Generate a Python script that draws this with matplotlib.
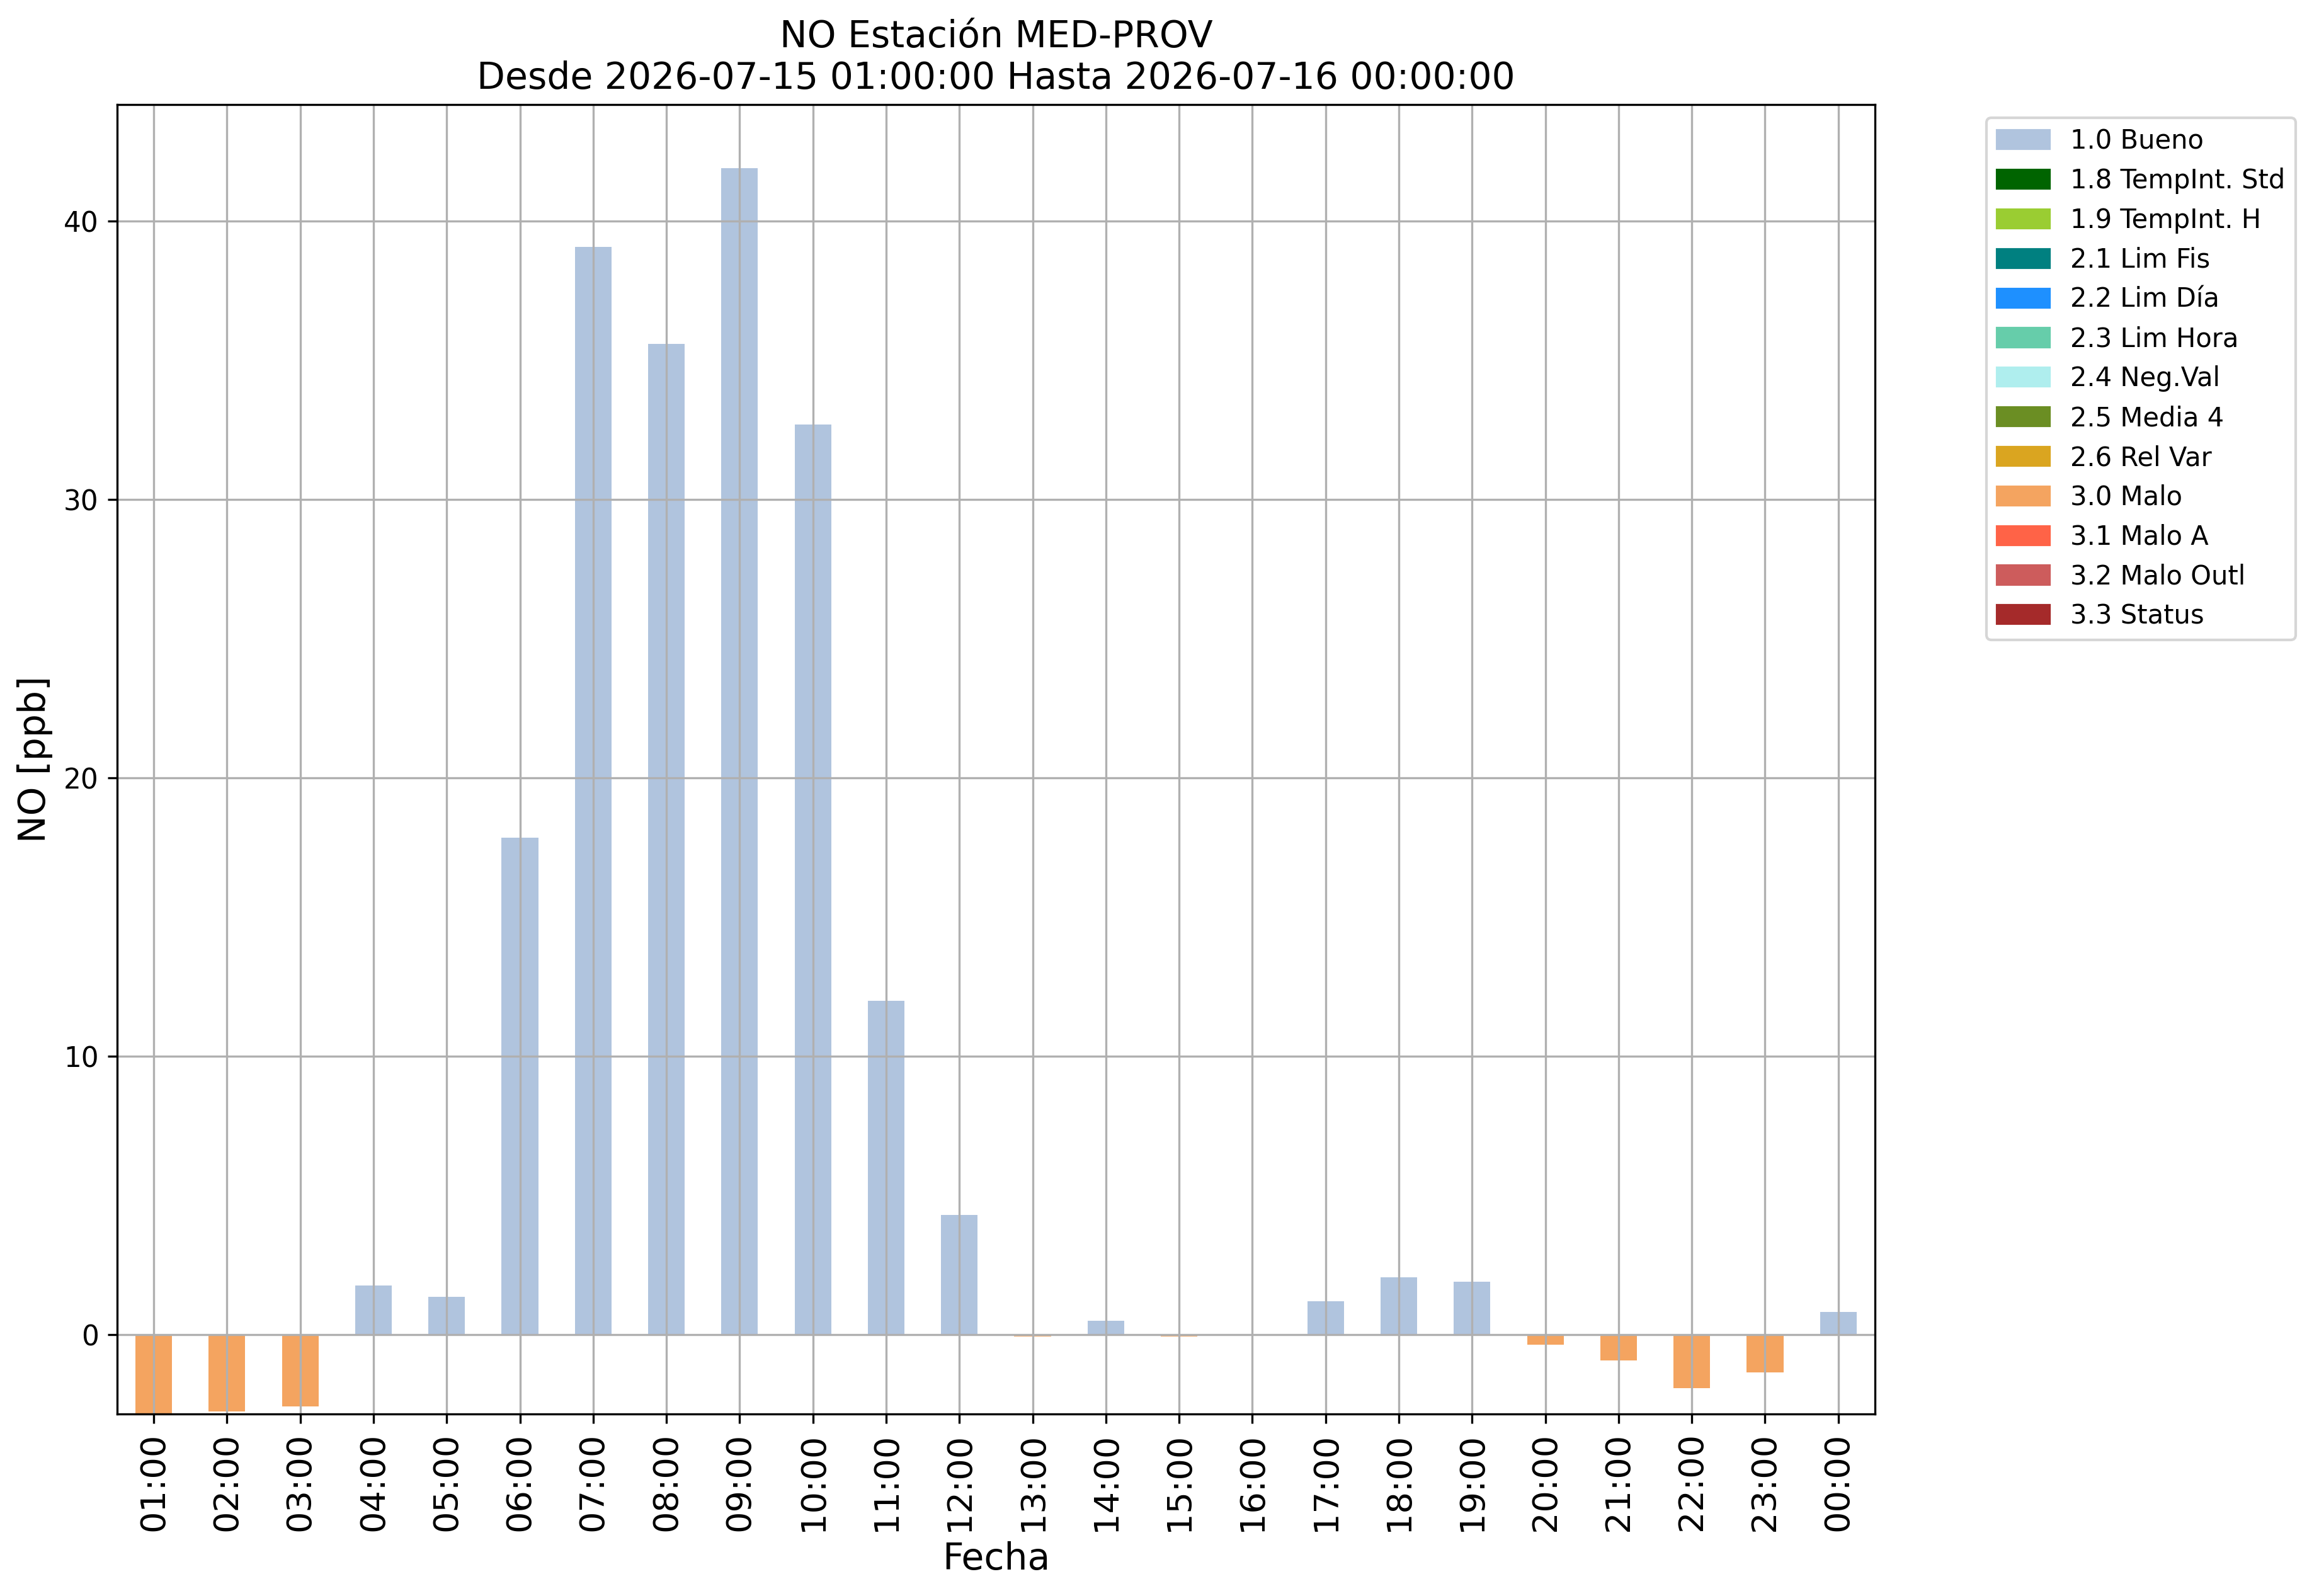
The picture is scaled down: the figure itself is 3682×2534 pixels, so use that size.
import matplotlib
matplotlib.use('Agg')
import matplotlib.pyplot as plt
from matplotlib.patches import Patch
import numpy as np

# horas (etiquetas del eje x)
horas = ['01:00', '02:00', '03:00', '04:00', '05:00', '06:00', '07:00', '08:00',
         '09:00', '10:00', '11:00', '12:00', '13:00', '14:00', '15:00', '16:00',
         '17:00', '18:00', '19:00', '20:00', '21:00', '22:00', '23:00', '00:00']
# valores NO [ppb]
valores = [-2.85, -2.76, -2.57, 1.76, 1.36, 17.85, 39.07, 35.6,
           41.9, 32.7, 12.0, 4.3, -0.06, 0.5, -0.06, 0.0,
           1.2, 2.06, 1.9, -0.36, -0.93, -1.92, -1.35, 0.81]
# flag de calidad de cada hora
flags = ['1.0'] * 24
for i in [0, 1, 2, 12, 14, 19, 20, 21, 22]:
    flags[i] = '3.0'

# etiquetas y colores de los flags
flag_codes = ['1.0', '1.8', '1.9', '2.1', '2.2', '2.3', '2.4', '2.5', '2.6',
              '3.0', '3.1', '3.2', '3.3']
flag_names = ['1.0 Bueno', '1.8 TempInt. Std', '1.9 TempInt. H', '2.1 Lim Fis',
              '2.2 Lim Día', '2.3 Lim Hora', '2.4 Neg.Val', '2.5 Media 4',
              '2.6 Rel Var', '3.0 Malo', '3.1 Malo A', '3.2 Malo Outl', '3.3 Status']
flag_colors = ['lightsteelblue', 'darkgreen', 'yellowgreen', 'teal', 'dodgerblue',
               'mediumaquamarine', 'paleturquoise', 'olivedrab', 'goldenrod',
               'sandybrown', 'tomato', 'indianred', 'brown']

fig = plt.figure(figsize=(3682 / 300, 2534 / 300), dpi=300)
ax = fig.add_subplot(111)
fig.subplots_adjust(left=0.0505, right=0.8085, top=0.9345, bottom=0.114)

x = np.arange(len(horas))
vals = np.array(valores)
fl = np.array(flags)
for code, color in zip(flag_codes, flag_colors):
    m = fl == code
    if m.any():
        ax.bar(x[m], vals[m], width=0.5, color=color)

ax.set_xlim(-0.5, len(horas) - 0.5)
ax.set_ylim(-2.85, 44.19)
ax.set_xticks(x)
ax.set_xticklabels(horas, rotation=90, fontsize=13)
ax.set_yticks([0, 10, 20, 30, 40])
ax.tick_params(axis='y', labelsize=10.5)
ax.grid(True)

ax.set_xlabel('Fecha', fontsize=14)
ax.set_ylabel('NO [ppb]', fontsize=14)
ax.set_title('NO Estación MED-PROV\nDesde 2026-07-15 01:00:00 Hasta 2026-07-16 00:00:00',
             fontsize=14)

handles = [Patch(color=c, label=n) for c, n in zip(flag_colors, flag_names)]
ax.legend(handles=handles, loc='upper left', bbox_to_anchor=(1.056, 1), fontsize=10)

plt.savefig('out.png', dpi=300)
